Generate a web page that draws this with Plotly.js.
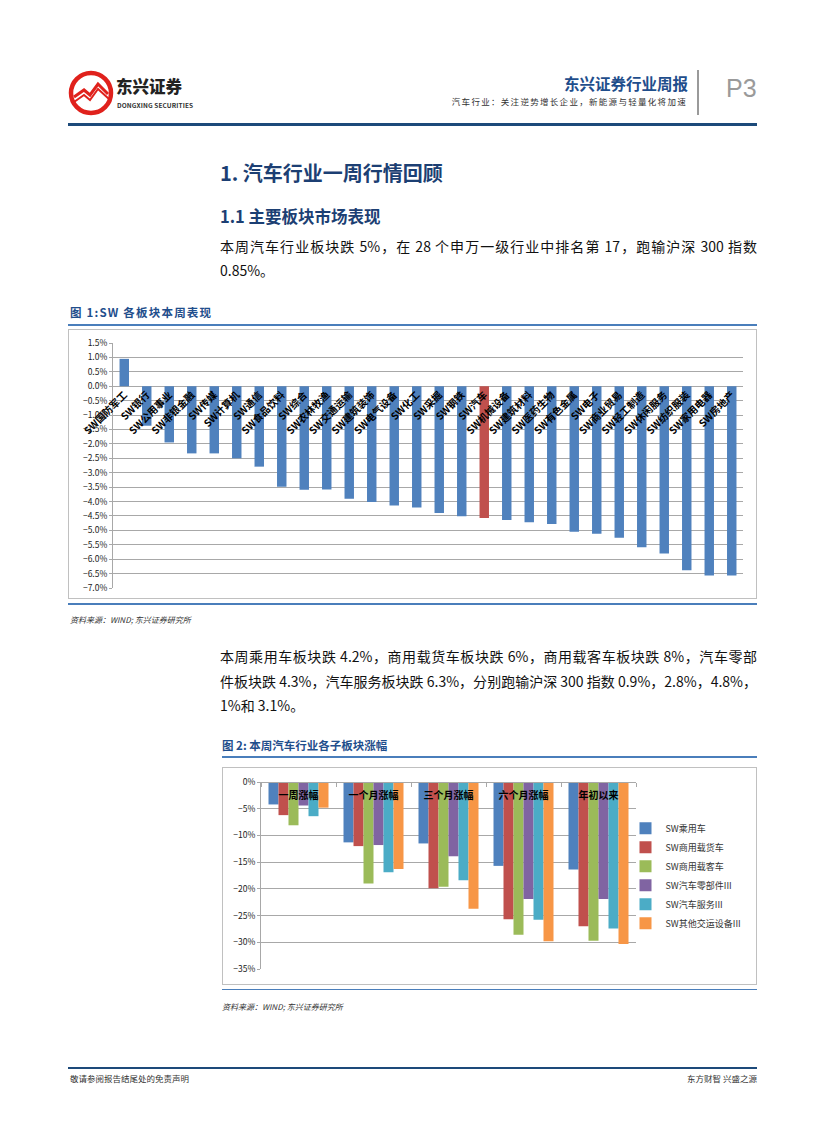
<!DOCTYPE html>
<html><head><meta charset="utf-8">
<script src="https://cdn.plot.ly/plotly-3.0.1.min.js"></script>
<style>
body{margin:0;width:827px;height:1122px;position:relative;background:#fff;font-family:"Noto Sans CJK SC","Noto Sans",sans-serif;overflow:hidden}
.abs{position:absolute}
.line{position:absolute;white-space:nowrap}
.body{font-size:14px;color:#111;width:537px;left:220px;text-align:justify;text-align-last:justify;white-space:nowrap}
.body.last{text-align-last:left}
.cap{font-weight:bold;color:#1f4e8c;font-size:11.5px}
.src{font-style:italic;font-size:8px;color:#333}
</style></head><body>
<!-- header -->
<svg class="abs" style="left:68px;top:70px" width="46" height="46" viewBox="0 0 46 46">
<circle cx="23" cy="23" r="20" fill="none" stroke="#e0211c" stroke-width="4.5"/>
<path d="M6 27 L16 20 L22 25 L30 14 L40 24" fill="none" stroke="#e0211c" stroke-width="3"/>
<path d="M6 32 L16 25 L22 30 L30 19 L41 29" fill="none" stroke="#e0211c" stroke-width="2"/>
</svg>
<div class="line" style="left:116px;top:76px;font-size:16.5px;line-height:20px;font-weight:900;color:#222">东兴证券</div>
<div class="line" style="left:117px;top:101px;font-size:6.5px;line-height:8px;font-weight:bold;color:#333;letter-spacing:0.1px">DONGXING SECURITIES</div>
<div class="line" style="right:139px;top:72px;font-size:15.5px;font-weight:bold;color:#1f4e8c">东兴证券行业周报</div>
<div class="line" style="right:140px;top:95px;font-size:8.5px;color:#333;letter-spacing:1.3px">汽车行业：关注逆势增长企业，新能源与轻量化将加速</div>
<div class="abs" style="left:697px;top:70px;width:1.5px;height:45px;background:#9a9a9a"></div>
<div class="line" style="left:726px;top:74px;font-size:25px;color:#9a9a9a;font-family:'Liberation Sans',sans-serif">P3</div>
<div class="abs" style="left:68px;top:123px;width:689px;height:3px;background:#1d4a7a"></div>

<div class="line" style="left:220px;top:158px;font-size:20px;font-weight:bold;color:#1c3f73">1. 汽车行业一周行情回顾</div>
<div class="line" style="left:220px;top:204px;font-size:16.5px;font-weight:bold;color:#1c3f73">1.1 主要板块市场表现</div>
<div class="abs body" style="top:236px">本周汽车行业板块跌 5%，在 28 个申万一级行业中排名第 17，跑输沪深 300 指数</div>
<div class="abs body last" style="top:260px">0.85%。</div>

<div class="line cap" style="left:70px;top:304px;letter-spacing:1.2px">图 1:SW 各板块本周表现</div>
<div class="abs" style="left:68px;top:324px;width:689px;height:2px;background:#4a7ebb"></div>
<div id="c1" class="abs" style="left:68px;top:329px;width:689px;height:270px;box-sizing:border-box;border:1px solid #c0c0c0"></div>
<div class="abs" style="left:68px;top:603px;width:689px;height:2px;background:#4a7ebb"></div>
<div class="line src" style="left:70px;top:614px">资料来源：WIND; 东兴证券研究所</div>

<div class="abs body" style="top:646px">本周乘用车板块跌 4.2%，商用载货车板块跌 6%，商用载客车板块跌 8%，汽车零部</div>
<div class="abs body" style="top:671px">件板块跌 4.3%，汽车服务板块跌 6.3%，分别跑输沪深 300 指数 0.9%，2.8%，4.8%，</div>
<div class="abs body last" style="top:695px">1%和 3.1%。</div>

<div class="line cap" style="left:222px;top:737px">图 2: 本周汽车行业各子板块涨幅</div>
<div class="abs" style="left:222px;top:756px;width:535px;height:2px;background:#4a7ebb"></div>
<div id="c2" class="abs" style="left:222px;top:767px;width:535px;height:218px;box-sizing:border-box;border:1px solid #c0c0c0"></div>
<div class="abs" style="left:222px;top:989px;width:535px;height:1px;background:#4a7ebb"></div>
<div class="line src" style="left:222px;top:1001px">资料来源：WIND; 东兴证券研究所</div>

<div class="abs" style="left:68px;top:1067px;width:689px;height:2px;background:#1d4a7a"></div>
<div class="line" style="left:70px;top:1072px;font-size:8.5px;color:#333">敬请参阅报告结尾处的免责声明</div>
<div class="line" style="right:70px;top:1072px;font-size:8.5px;color:#333">东方财智 兴盛之源</div>

<script>
// ---- Chart 1 data ----
const sectors = ['SW国防军工','SW银行','SW公用事业','SW非银金融','SW传媒','SW计算机','SW通信','SW食品饮料','SW综合','SW农林牧渔','SW交通运输','SW建筑装饰','SW电气设备','SW化工','SW采掘','SW钢铁','SW汽车','SW机械设备','SW建筑材料','SW医药生物','SW有色金属','SW电子','SW商业贸易','SW轻工制造','SW休闲服务','SW纺织服装','SW家用电器','SW房地产'];
const weekChange = [0.95,-1.37,-1.95,-2.33,-2.33,-2.50,-2.79,-3.49,-3.59,-3.58,-3.90,-4.02,-4.14,-4.21,-4.40,-4.51,-4.57,-4.64,-4.72,-4.78,-5.05,-5.12,-5.26,-5.59,-5.80,-6.38,-6.57,-6.57];
const highlight = 'SW汽车';

// ---- Chart 2 data ----
const periods = ['一周涨幅','一个月涨幅','三个月涨幅','六个月涨幅','年初以来'];
const subNames = ['SW乘用车','SW商用载货车','SW商用载客车','SW汽车零部件III','SW汽车服务III','SW其他交运设备III'];
const s_passenger = [-4.2,-11.3,-11.5,-15.7,-16.4];
const s_truck = [-6.2,-12.0,-19.9,-25.7,-27.0];
const s_bus = [-8.1,-19.0,-19.6,-28.6,-29.7];
const s_parts = [-4.4,-11.8,-13.9,-21.9,-21.9];
const s_service = [-6.4,-16.9,-18.4,-25.8,-27.4];
const s_other = [-4.8,-16.3,-23.7,-29.8,-30.3];
const subSeries = [s_passenger,s_truck,s_bus,s_parts,s_service,s_other];

const BLUE='#4F81BD', RED='#C0504D';
const subColors=['#4F81BD','#C0504D','#9BBB59','#8064A2','#4BACC6','#F79646'];
const F='"Noto Sans CJK SC", "Noto Sans", sans-serif';

const y1min=-7, y1max=1.5;
Plotly.newPlot('c1',[{
  type:'bar', x:sectors, y:weekChange,
  marker:{color:sectors.map(s=>s===highlight?RED:BLUE)},
  hoverinfo:'none'
}],{
  width:687,height:268,
  margin:{l:44,r:13,t:13,b:10},
  paper_bgcolor:'rgba(0,0,0,0)',plot_bgcolor:'#fff',
  bargap:0.58, showlegend:false,
  font:{family:F},
  xaxis:{type:'category',anchor:'free',position:(0-y1min)/(y1max-y1min),side:'bottom',
    tickangle:-45,tickfont:{size:10,color:'#000',weight:'bold'},showline:false,ticks:'',showgrid:false,
    range:[-0.5,sectors.length-0.5]},
  yaxis:{range:[y1min,y1max],dtick:0.5,tickformat:'.1f',ticksuffix:'%',
    tickfont:{size:8.5,color:'#222'},gridcolor:'#a8a8a8',gridwidth:1,
    zeroline:true,zerolinecolor:'#a8a8a8',zerolinewidth:1,
    showline:true,linecolor:'#a8a8a8',ticks:'outside',ticklen:3,tickcolor:'#a8a8a8'}
},{staticPlot:true});

Plotly.newPlot('c2',subNames.map((n,i)=>({
  type:'bar',name:n,x:periods,y:subSeries[i],marker:{color:subColors[i]},hoverinfo:'none',legendgroup:'g'+i
})),{
  width:533,height:216,
  margin:{l:38,r:120,t:14,b:15,autoexpand:false},
  paper_bgcolor:'rgba(0,0,0,0)',plot_bgcolor:'rgba(0,0,0,0)',
  bargap:0.2,bargroupgap:0,
  font:{family:F},
  xaxis:{type:'category',anchor:'free',position:1,side:'bottom',
    tickfont:{size:10,color:'#000',weight:'bold'},showline:true,linecolor:'#a8a8a8',ticklabelstandoff:4,
    ticks:'outside',tickson:'boundaries',ticklen:4,tickcolor:'#a8a8a8',showgrid:false},
  yaxis:{range:[-35,0],dtick:5,ticksuffix:'%',tickfont:{size:8.5,color:'#222'},
    gridcolor:'#a8a8a8',zeroline:false,showline:true,linecolor:'#a8a8a8',
    ticks:'outside',ticklen:3,tickcolor:'#a8a8a8'},
  legend:{x:0.972,xanchor:'left',y:0.83,yanchor:'top',font:{size:9,color:'#333'},
    tracegroupgap:0,traceorder:'grouped',itemwidth:30,bgcolor:'rgba(0,0,0,0)',borderwidth:0}
},{staticPlot:true});
</script>
</body></html>
